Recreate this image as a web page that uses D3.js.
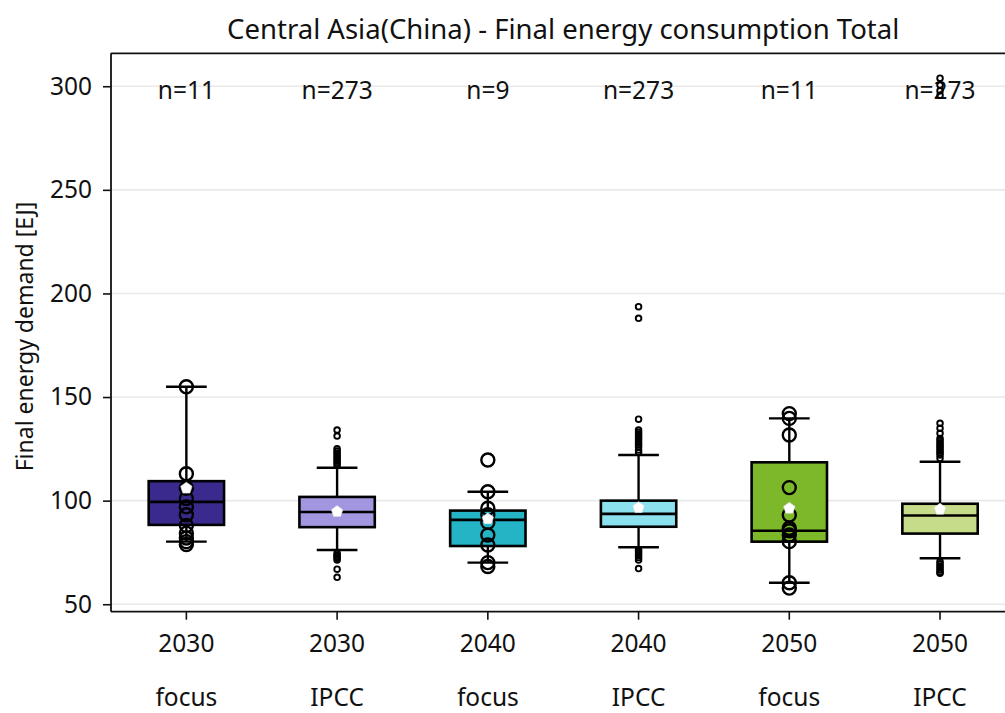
<!DOCTYPE html>
<html>
<head>
<meta charset="utf-8">
<script src="https://cdn.jsdelivr.net/npm/d3@7"></script>
<style>
  html, body { margin: 0; padding: 0; background: #fff; overflow: hidden; }
  svg { display: block; font-family: "Noto Sans", sans-serif; }
</style>
</head>
<body>
<svg id="chart" width="1005" height="713"></svg>
<script>
// ---------------- data ----------------
const years = ["2030", "2030", "2040", "2040", "2050", "2050"];
const groups = ["focus", "IPCC", "focus", "IPCC", "focus", "IPCC"];
const nCounts = [11, 273, 9, 273, 11, 273];
const boxColors = ["#3b2a8e", "#a296e0", "#24b4c6", "#8be1ee", "#7cb82a", "#c7dc8b"];

const q1 = [88.3, 87.2, 78.1, 87.4, 80.2, 84.1];
const medians = [99.4, 94.5, 90.7, 93.6, 85.5, 92.8];
const q3 = [109.4, 101.8, 95.2, 100.0, 118.5, 98.5];
const whiskerLow = [80.2, 76.2, 70.1, 77.5, 60.4, 72.2];
const whiskerHigh = [155.0, 115.9, 104.3, 122.0, 139.7, 118.8];
const means = [106.0, 94.7, 91.2, 96.6, 96.3, 95.8];

// individual scenario values shown for the "focus" sets
const focus2030 = [155.0, 113.0, 106.0, 101.0, 97.0, 93.2, 88.0, 84.3, 82.0, 80.2, 78.8];
const focus2040 = [119.6, 104.3, 96.3, 93.2, 89.5, 83.4, 78.6, 70.1, 68.2];
const focus2050 = [142.0, 139.7, 131.7, 106.3, 93.1, 86.7, 85.5, 83.4, 80.2, 60.4, 57.8];

// outliers for the IPCC sets
const outliers2030 = [134.1, 131.2, 125.0, 124.0, 123.0, 122.0, 121.0, 120.0, 119.0, 118.0, 117.0,
                      74.6, 73.8, 73.0, 72.2, 71.4, 66.9, 63.0];
const outliers2040 = [193.6, 188.0, 139.3, 134.1, 133.0, 132.0, 131.0, 130.0, 129.0, 128.0, 127.0, 126.0, 124.5, 123.2,
                      76.3, 75.4, 74.5, 73.5, 72.5, 71.4, 67.2];
const outliers2050 = [303.9, 300.6, 297.8, 295.7, 137.3, 134.9, 132.5, 130.0, 129.0, 128.0, 127.0, 126.0, 125.0,
                      124.0, 123.0, 122.0, 120.4, 70.6, 69.5, 68.5, 67.5, 66.5, 65.5, 65.0];

const yTicks = [50, 100, 150, 200, 250, 300];
const titleText = "Central Asia(China) - Final energy consumption Total";
const yLabel = "Final energy demand [EJ]";

// ---------------- build ----------------
const pointSets = [focus2030, outliers2030, focus2040, outliers2040, focus2050, outliers2050];
const cats = years.map((y, i) => i);
const rows = cats.map(i => ({
  i, year: years[i], group: groups[i], n: nCounts[i], color: boxColors[i],
  q1: q1[i], med: medians[i], q3: q3[i], lo: whiskerLow[i], hi: whiskerHigh[i], mean: means[i],
  pts: pointSets[i], isFocus: groups[i] === "focus"
}));

const svg = d3.select("#chart");
const pL = 111, pR = 1015.4, pT = 53.3, pB = 611.7;
const FS = 24.5;

const x = d3.scaleBand().domain(cats).range([pL, pR]).paddingInner(0).paddingOuter(0);
const y = d3.scaleLinear().domain([46.4, 315.9]).range([pB, pT]);
const cx = i => x(i) + x.bandwidth() / 2;
const boxW = x.bandwidth() * 0.5;
const capW = x.bandwidth() * 0.27;

// grid
svg.append("g").selectAll("line").data(yTicks).join("line")
  .attr("x1", pL).attr("x2", pR)
  .attr("y1", d => y(d)).attr("y2", d => y(d))
  .attr("stroke", "#e9e9e9").attr("stroke-width", 1.6);

// title
svg.append("text").attr("x", (pL + pR) / 2).attr("y", 28)
  .attr("text-anchor", "middle").attr("dominant-baseline", "central")
  .attr("font-size", 27.5).attr("fill", "#111").text(titleText);

// y axis
const yAxis = svg.append("g").attr("transform", `translate(${pL},0)`)
  .call(d3.axisLeft(y).tickValues(yTicks).tickSize(8).tickPadding(11));
yAxis.select(".domain").remove();
yAxis.selectAll(".tick line").attr("stroke", "#111").attr("stroke-width", 1.6);
yAxis.selectAll(".tick text").attr("font-size", FS).attr("fill", "#111").attr("font-family", "Noto Sans");

// x axis
const xAxis = svg.append("g").attr("transform", `translate(0,${pB})`)
  .call(d3.axisBottom(x).tickSize(8).tickPadding(10).tickFormat(i => years[i]));
xAxis.select(".domain").remove();
xAxis.selectAll(".tick line").attr("stroke", "#111").attr("stroke-width", 1.6);
xAxis.selectAll(".tick text").attr("font-size", FS).attr("fill", "#111").attr("font-family", "Noto Sans")
  .attr("dy", null).attr("y", 31).attr("dominant-baseline", "central");
xAxis.selectAll(".tick").append("text")
  .attr("y", 85).attr("dominant-baseline", "central").attr("text-anchor", "middle")
  .attr("font-size", FS).attr("fill", "#111").attr("font-family", "Noto Sans")
  .text(i => groups[i]);

// spines
svg.append("line").attr("x1", pL).attr("x2", pL).attr("y1", pT).attr("y2", pB)
  .attr("stroke", "#111").attr("stroke-width", 1.8);
svg.append("line").attr("x1", pL).attr("x2", pR).attr("y1", pT).attr("y2", pT)
  .attr("stroke", "#111").attr("stroke-width", 1.8);
svg.append("line").attr("x1", pL).attr("x2", pR).attr("y1", pB).attr("y2", pB)
  .attr("stroke", "#111").attr("stroke-width", 1.8);

// y label
svg.append("text").attr("transform", `translate(24,${(pT + pB) / 2 + 4}) rotate(-90)`)
  .attr("text-anchor", "middle").attr("dominant-baseline", "central")
  .attr("font-size", 23).attr("fill", "#111").text(yLabel);

// n labels
svg.append("g").selectAll("text").data(rows).join("text")
  .attr("x", d => cx(d.i)).attr("y", y(300) + 3.5)
  .attr("text-anchor", "middle").attr("dominant-baseline", "central")
  .attr("font-size", FS).attr("fill", "#111").text(d => "n=" + d.n);

// boxes
const g = svg.append("g").selectAll("g").data(rows).join("g");
// whiskers
g.append("line").attr("x1", d => cx(d.i)).attr("x2", d => cx(d.i))
  .attr("y1", d => y(d.q3)).attr("y2", d => y(d.hi)).attr("stroke", "#000").attr("stroke-width", 2.4);
g.append("line").attr("x1", d => cx(d.i)).attr("x2", d => cx(d.i))
  .attr("y1", d => y(d.q1)).attr("y2", d => y(d.lo)).attr("stroke", "#000").attr("stroke-width", 2.4);
g.append("line").attr("x1", d => cx(d.i) - capW / 2).attr("x2", d => cx(d.i) + capW / 2)
  .attr("y1", d => y(d.hi)).attr("y2", d => y(d.hi)).attr("stroke", "#000").attr("stroke-width", 2.4);
g.append("line").attr("x1", d => cx(d.i) - capW / 2).attr("x2", d => cx(d.i) + capW / 2)
  .attr("y1", d => y(d.lo)).attr("y2", d => y(d.lo)).attr("stroke", "#000").attr("stroke-width", 2.4);
// box
g.append("rect").attr("x", d => cx(d.i) - boxW / 2).attr("width", boxW)
  .attr("y", d => y(d.q3)).attr("height", d => y(d.q1) - y(d.q3))
  .attr("fill", d => d.color).attr("stroke", "#000").attr("stroke-width", 2.6);
// median
g.append("line").attr("x1", d => cx(d.i) - boxW / 2).attr("x2", d => cx(d.i) + boxW / 2)
  .attr("y1", d => y(d.med)).attr("y2", d => y(d.med)).attr("stroke", "#000").attr("stroke-width", 2.6);

// points
g.each(function (d) {
  d3.select(this).selectAll("circle").data(d.pts).join("circle")
    .attr("cx", cx(d.i)).attr("cy", v => y(v))
    .attr("r", d.isFocus ? 6.5 : 2.8)
    .attr("fill", "none").attr("stroke", "#000")
    .attr("stroke-width", d.isFocus ? 2.4 : 1.9);
});

// mean pentagons
const pent = r => d3.line()(d3.range(5).map(k => {
  const a = -Math.PI / 2 + k * 2 * Math.PI / 5;
  return [r * Math.cos(a), r * Math.sin(a)];
})) + "Z";
g.append("path").attr("d", pent(6))
  .attr("transform", d => `translate(${cx(d.i)},${y(d.mean)})`)
  .attr("fill", "#fff").attr("stroke", "#ddd").attr("stroke-width", 0.6);
</script>
</body>
</html>
